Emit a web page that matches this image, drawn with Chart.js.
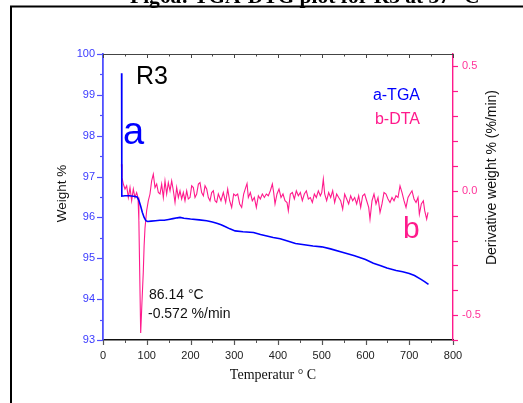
<!DOCTYPE html>
<html>
<head>
<meta charset="utf-8">
<script src="https://cdn.jsdelivr.net/npm/chart.js@4/dist/chart.umd.min.js"></script>
<style>
  html, body { margin: 0; padding: 0; background: #fff; }
  #wrap { width: 523px; height: 403px; }
</style>
</head>
<body>
<div id="wrap"><canvas id="tgaChart" width="523" height="403"></canvas></div>
<script>
// TGA curve (weight %) vs temperature
const tgaTemp = [42.5, 43, 50, 60, 70, 78, 82, 86, 90, 94, 98, 102, 110, 120, 130, 140, 150, 160, 170, 176,
    185, 200, 220, 237, 250, 260, 270, 280, 290, 302, 320, 344, 360, 389, 405, 420, 440, 460, 480, 500,
    520, 549, 575, 600, 618, 635, 649, 670, 685, 700, 712, 726, 735, 744];
const tgaWeight = [99.53, 96.52, 96.53, 96.53, 96.52, 96.50, 96.42, 96.28, 96.12, 96.00, 95.92, 95.90, 95.91, 95.92, 95.93, 95.93, 95.95, 95.97, 95.99, 96.00,
    95.98, 95.96, 95.94, 95.92, 95.89, 95.86, 95.82, 95.77, 95.72, 95.67, 95.65, 95.63, 95.58, 95.51, 95.48, 95.43, 95.36, 95.33, 95.30, 95.28,
    95.23, 95.14, 95.06, 94.97, 94.88, 94.82, 94.76, 94.70, 94.67, 94.63, 94.58, 94.49, 94.43, 94.36];

// DTG curve (%/min) vs temperature
const dtaTemp = [42, 43.4, 46.5, 50.3, 54.1, 57.9, 61.7, 65.5, 69.3, 73.1, 76.9, 80, 82, 84, 86.14, 89, 92, 94, 96, 99.8,
    103.6, 107.4, 111.2, 115, 118.9, 122.7, 126.5, 130.3, 134.1, 137.9, 141.7, 145.5, 149.3, 153.2, 157, 160.8, 164.6, 168.4, 172.2, 176,
    179.8, 183.6, 187.4, 191.3, 195, 198.9, 202.7, 206.5, 210.3, 214.1, 218, 221.7, 225.5, 229.4, 233.2, 237, 240.8, 244.6, 248.4, 252.2,
    256, 259.8, 263.6, 269.7, 275, 280.4, 285, 289.5, 294.1, 298.7, 303.2, 307.8, 312.4, 317, 321.5, 326.1, 329.2, 332.2, 336.8, 341.3,
    345.9, 350.5, 355.1, 359.6, 364.2, 368.8, 373.3, 377.9, 382.5, 387.1, 390.1, 393.2, 397.7, 402.3, 406.9, 411.4, 416, 420.6, 423.6, 428.2,
    432.8, 437.4, 441.9, 446.5, 451.1, 455.6, 460.2, 464.8, 469.4, 473.9, 478.5, 483.1, 487.6, 492.2, 496.8, 500, 503.6, 506.7, 511.2, 515.8,
    520.4, 525, 529.5, 534.1, 538.7, 543.2, 547.8, 552.4, 557, 561.5, 566.1, 570.7, 575.2, 579.8, 584.4, 589, 593.5, 598.1, 602.7, 607.3,
    610.3, 614.9, 619.4, 624, 628.6, 633.2, 637.7, 642.3, 646.9, 651.4, 656, 660.6, 665.2, 669.7, 674.3, 678.9, 683.5, 688, 692.6, 697.2,
    701.7, 706.3, 710.9, 715.5, 720, 723.1, 727.6, 732.2, 735.3, 739.8, 742.9];
const dtaRate = [0.107, 0.053, 0.027, 0.007, 0.020, -0.027, 0.013, -0.040, 0.007, -0.027, -0.007, -0.027, -0.12, -0.34, -0.572, -0.45, -0.33, -0.22, -0.15, -0.08,
    -0.040, -0.013, 0.040, 0.067, 0.013, 0.027, -0.007, -0.013, 0.027, -0.027, 0.040, -0.013, 0.033, 0.000, 0.040, 0.000, -0.047, 0.013, -0.027, 0.000,
    -0.033, -0.007, -0.040, 0.000, -0.033, -0.027, 0.020, 0.013, -0.027, -0.013, 0.027, 0.033, -0.007, -0.020, 0.020, 0.007, -0.027, -0.040, -0.007, 0.000,
    -0.040, -0.047, -0.013, -0.040, -0.007, -0.047, 0.007, -0.040, -0.067, -0.013, -0.020, -0.013, -0.053, -0.067, -0.013, 0.013, 0.029, -0.027, -0.007, -0.040,
    -0.027, -0.067, -0.020, -0.033, -0.013, -0.027, -0.013, -0.020, 0.000, 0.027, -0.007, -0.053, -0.013, 0.007, -0.027, -0.013, -0.040, -0.047, -0.080, -0.013,
    -0.007, -0.033, 0.000, -0.020, -0.007, -0.040, -0.013, 0.000, -0.033, -0.027, -0.047, -0.013, -0.027, 0.000, -0.020, -0.007, 0.047, -0.013, -0.040, -0.007,
    -0.027, 0.000, -0.047, -0.013, -0.027, -0.040, -0.074, -0.013, -0.033, -0.053, -0.020, -0.040, -0.027, -0.053, -0.020, -0.067, -0.020, -0.013, -0.040, -0.067,
    -0.114, -0.040, -0.013, -0.053, -0.027, -0.087, -0.053, -0.007, -0.013, -0.033, -0.047, -0.027, -0.040, -0.020, -0.027, 0.020, -0.007, -0.040, -0.067, -0.027,
    -0.013, 0.000, -0.033, -0.047, -0.027, -0.094, -0.053, -0.040, -0.080, -0.114, -0.087];

// axis ticks
const tempTicks = [0, 100, 200, 300, 400, 500, 600, 700, 800];
const weightTicks = [93, 94, 95, 96, 97, 98, 99, 100];
const rateTicks = [-0.6, -0.5, -0.4, -0.3, -0.2, -0.1, 0, 0.1, 0.2, 0.3, 0.4, 0.5];
const rateLabelled = [-0.5, 0, 0.5];

const BLUE = '#0000ff';
const AXIS_BLUE = '#5050ff';
const PINK = '#ff1a8c';
const SANS = 'Arial, "Liberation Sans", sans-serif';
const SERIF = '"Liberation Serif", "Times New Roman", serif';

Chart.defaults.font.family = SANS;

function toPoints(xs, ys) {
    return xs.map((x, i) => ({ x: x, y: ys[i] }));
}

function drawLine(ctx, x1, y1, x2, y2, color, width) {
    ctx.strokeStyle = color;
    ctx.lineWidth = width;
    ctx.beginPath();
    ctx.moveTo(x1, y1);
    ctx.lineTo(x2, y2);
    ctx.stroke();
}

function drawText(ctx, text, x, y, font, color, align) {
    ctx.font = font;
    ctx.fillStyle = color;
    ctx.textAlign = align || 'left';
    ctx.textBaseline = 'alphabetic';
    ctx.fillText(text, x, y);
}

function drawVertical(ctx, text, cx, cy, font, color) {
    ctx.save();
    ctx.translate(cx, cy);
    ctx.rotate(-Math.PI / 2);
    ctx.font = font;
    ctx.fillStyle = color;
    ctx.textAlign = 'center';
    ctx.textBaseline = 'middle';
    ctx.fillText(text, 0, 0);
    ctx.restore();
}

// tick marks, top frame, titles and annotations
const decorPlugin = {
    id: 'decor',
    afterDraw(chart) {
        const { ctx, chartArea: a, scales: { x, y, y2 } } = chart;
        ctx.save();

        // page frame and figure caption
        ctx.strokeStyle = '#000';
        ctx.lineWidth = 2;
        ctx.strokeRect(11, 6.5, 540, 420);
        drawText(ctx, 'Fig6a: TGA-DTG plot for R3 at 37° C', 130, 3, 'bold 21.5px ' + SERIF, '#000');

        // top edge of plot
        drawLine(ctx, a.left, a.top + 0.5, a.right, a.top + 0.5, '#444', 1);

        // temperature ticks: outward at bottom, inward at top
        x.ticks.forEach(tk => {
            const px = Math.round(x.getPixelForValue(tk.value)) + 0.5;
            drawLine(ctx, px, a.bottom, px, a.bottom + 5, '#555', 1.2);
            drawLine(ctx, px, a.top, px, a.top + 4, '#444', 1);
            if (tk.value < x.max) {
                const pm = Math.round(x.getPixelForValue(tk.value + 50)) + 0.5;
                drawLine(ctx, pm, a.bottom, pm, a.bottom + 3, '#555', 1);
                drawLine(ctx, pm, a.top, pm, a.top + 2.5, '#444', 1);
            }
        });

        // weight ticks on the left
        y.ticks.forEach(tk => {
            const py = Math.round(y.getPixelForValue(tk.value)) + 0.5;
            drawLine(ctx, a.left - 6, py, a.left, py, AXIS_BLUE, 1.2);
            if (tk.value < y.max) {
                const pm = Math.round(y.getPixelForValue(tk.value + 0.5)) + 0.5;
                drawLine(ctx, a.left - 3, pm, a.left, pm, AXIS_BLUE, 1.2);
            }
        });

        // derivative ticks on the right
        y2.ticks.forEach(tk => {
            const py = Math.round(y2.getPixelForValue(tk.value)) + 0.5;
            drawLine(ctx, a.right, py, a.right + 5, py, PINK, 1.2);
        });

        // axis titles
        drawVertical(ctx, 'Weight %', 62.5, 193.5, '13.5px ' + SANS, '#111');
        drawVertical(ctx, 'Derivative weight % (%/min)', 492.5, 177.5, '14px ' + SANS, '#111');
        drawText(ctx, 'Temperatur ° C', 273, 379, '14px ' + SERIF, '#111', 'center');

        // annotations
        drawText(ctx, 'R3', 136, 84, '25px ' + SANS, '#000');
        drawText(ctx, 'a', 123, 144, '38px ' + SANS, BLUE);
        drawText(ctx, 'b', 403, 238, '30px ' + SANS, PINK);
        drawText(ctx, 'a-TGA', 420, 99.5, '16px ' + SANS, BLUE, 'right');
        drawText(ctx, 'b-DTA', 420, 123.5, '16px ' + SANS, PINK, 'right');
        drawText(ctx, '86.14 °C', 149, 298.5, '14px ' + SANS, '#111');
        drawText(ctx, '-0.572 %/min', 148, 318, '14px ' + SANS, '#111');

        ctx.restore();
    }
};

new Chart(document.getElementById('tgaChart'), {
    type: 'line',
    data: {
        datasets: [{
            label: 'a-TGA',
            data: toPoints(tgaTemp, tgaWeight),
            yAxisID: 'y',
            borderColor: BLUE,
            borderWidth: 1.6,
            pointRadius: 0,
            tension: 0,
            fill: false
        }, {
            label: 'b-DTA',
            data: toPoints(dtaTemp, dtaRate),
            yAxisID: 'y2',
            borderColor: PINK,
            borderWidth: 1.1,
            pointRadius: 0,
            tension: 0,
            fill: false
        }]
    },
    options: {
        responsive: false,
        animation: false,
        devicePixelRatio: 1,
        layout: { padding: { left: 0, right: 0, top: 54, bottom: 0 } },
        plugins: {
            legend: { display: false },
            tooltip: { enabled: false }
        },
        scales: {
            x: {
                type: 'linear',
                position: 'bottom',
                min: 0,
                max: 800,
                afterBuildTicks: s => { s.ticks = tempTicks.map(v => ({ value: v })); },
                afterFit: s => { s.height = 63; },
                grid: { display: false, drawTicks: false },
                border: { display: true, color: '#111', width: 1.4 },
                ticks: { autoSkip: false, maxRotation: 0, padding: 9, color: '#222', font: { size: 11 } }
            },
            y: {
                type: 'linear',
                position: 'left',
                min: 93,
                max: 100,
                afterBuildTicks: s => { s.ticks = weightTicks.map(v => ({ value: v })); },
                afterFit: s => { s.width = 103; },
                grid: { display: false, drawTicks: false },
                border: { display: true, color: AXIS_BLUE, width: 1.8 },
                ticks: { padding: 8, color: '#3a3aff', font: { size: 11 } }
            },
            y2: {
                type: 'linear',
                position: 'right',
                min: -0.6,
                max: 0.55,
                afterBuildTicks: s => { s.ticks = rateTicks.map(v => ({ value: v })); },
                afterFit: s => { s.width = 70; },
                grid: { display: false, drawTicks: false },
                border: { display: true, color: PINK, width: 1.4 },
                ticks: {
                    padding: 9,
                    color: '#ff3399',
                    font: { size: 11 },
                    callback: v => rateLabelled.some(r => Math.abs(r - v) < 1e-6) ? Number(v).toFixed(1) : ''
                }
            }
        }
    },
    plugins: [decorPlugin]
});
</script>
</body>
</html>
